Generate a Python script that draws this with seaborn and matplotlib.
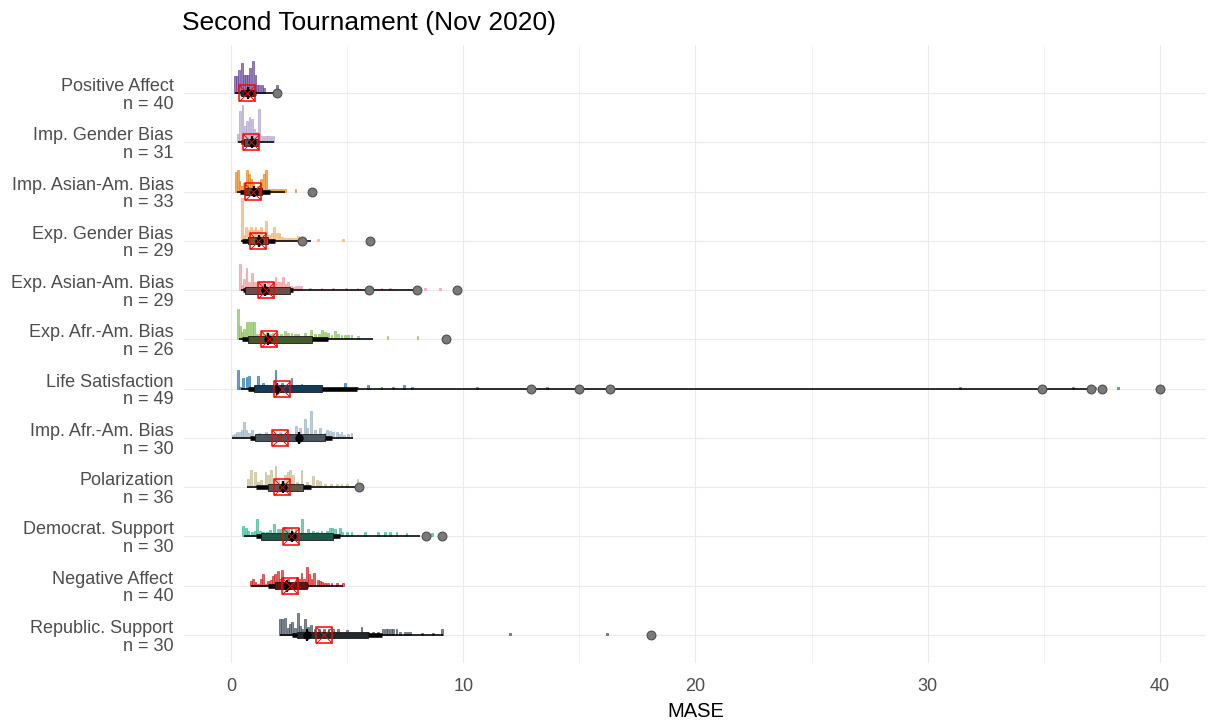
import matplotlib
matplotlib.use("Agg")
import matplotlib.pyplot as plt
from matplotlib.colors import to_rgb
import numpy as np
import pandas as pd
import seaborn as sns

# one row per target, top to bottom
ROWS = ["Positive Affect", "Imp. Gender Bias", "Imp. Asian-Am. Bias", "Exp. Gender Bias",
        "Exp. Asian-Am. Bias", "Exp. Afr.-Am. Bias", "Life Satisfaction", "Imp. Afr.-Am. Bias",
        "Polarization", "Democrat. Support", "Negative Affect", "Republic. Support"]
N_TEAMS = [40, 31, 33, 29, 29, 26, 49, 30, 36, 30, 40, 30]
COLORS = ["#6b4c9a", "#b9a8cb", "#ec8a1a", "#f3b46e", "#f29c9c", "#8ec25e",
          "#2b7bb6", "#9db5ca", "#c9bd96", "#3dbb9b", "#d62728", "#4a5663"]

# histogram bins (MASE) and relative bar heights
HIST_X = [
    [0.17, 0.27, 0.36, 0.47, 0.56, 0.65, 0.75, 0.82, 0.96, 1.06, 1.13, 1.22, 1.33, 1.43, 1.99],
    [0.3, 0.4, 0.5, 0.6, 0.7, 0.8, 0.9, 1.0, 1.1, 1.2, 1.3, 1.4, 1.5, 1.6, 1.7, 1.8],
    [0.2, 0.29, 0.37, 0.46, 0.57, 0.69, 0.77, 0.86, 0.95, 1.06, 1.18, 1.29, 1.41, 1.52,
     1.64, 1.75, 1.87, 1.98, 2.1, 2.21, 2.32, 2.78],
    [0.46, 0.57, 0.66, 0.77, 0.86, 0.98, 1.06, 1.18, 1.29, 1.41, 1.52, 1.64, 1.75, 1.87,
     1.98, 2.09, 2.21, 2.32, 2.44, 2.55, 2.67, 2.78, 2.9, 3.01, 3.76, 4.84],
    [0.39, 0.49, 0.57, 0.67, 0.77, 0.89, 1.0, 1.1, 1.2, 1.32, 1.43, 1.58, 1.72, 1.82, 1.92,
     2.04, 2.15, 2.25, 2.35, 2.47, 2.58, 2.68, 2.78, 2.9, 3.0, 3.4, 3.9, 4.4, 4.94, 5.45,
     6.48, 6.84, 8.35, 9.0],
    [0.29, 0.39, 0.49, 0.57, 0.67, 0.77, 0.89, 1.0, 1.1, 1.21, 1.32, 1.43, 1.54, 1.68, 1.82,
     1.97, 2.15, 2.32, 2.47, 2.61, 2.75, 2.9, 3.19, 3.44, 3.62, 3.79, 3.93, 4.05, 4.19, 4.33,
     4.48, 4.62, 4.76, 4.91, 5.05, 5.19, 5.48, 6.74, 8.03],
    [0.29, 0.39, 0.53, 0.67, 0.77, 0.92, 1.18, 1.39, 1.54, 1.92, 2.18, 2.61, 2.83, 3.04,
     3.47, 3.76, 4.91, 5.41, 5.91, 6.48, 6.99, 7.45, 7.8, 10.6, 13.6, 15.1, 31.4, 36.25,
     37.2, 38.2],
    [0.07, 0.17, 0.27, 0.39, 0.47, 0.56, 0.67, 0.79, 0.9, 1.2, 1.5, 1.8, 2.1, 2.4, 2.8,
     2.97, 3.19, 3.29, 3.43, 3.62, 3.83, 4.05, 4.15, 4.26, 4.4, 4.55, 4.66, 4.76, 4.86,
     5.05, 5.19],
    [0.75, 0.86, 1.03, 1.15, 1.29, 1.49, 1.61, 1.72, 1.92, 2.04, 2.18, 2.32, 2.44, 2.54,
     2.68, 2.83, 3.04, 3.26, 3.54, 3.69, 3.83, 4.05, 4.3, 4.55, 4.76, 4.98, 5.45],
    [0.53, 0.63, 0.75, 0.89, 1.03, 1.13, 1.25, 1.39, 1.54, 1.68, 1.87, 2.01, 2.15, 2.32,
     2.47, 2.61, 2.78, 3.07, 3.33, 3.54, 3.69, 3.9, 4.12, 4.26, 4.36, 4.48, 4.69, 4.79,
     4.98, 5.19, 5.77, 6.34, 6.63, 6.84, 7.13, 7.56, 8.64],
    [0.86, 0.96, 1.06, 1.18, 1.29, 1.39, 1.49, 1.61, 1.72, 1.82, 1.89, 2.01, 2.11, 2.21,
     2.32, 2.44, 2.61, 2.73, 2.83, 2.93, 3.04, 3.16, 3.26, 3.36, 3.47, 3.59, 3.73, 3.83,
     3.93, 4.05, 4.19, 4.33, 4.55, 4.84],
    [2.11, 2.21, 2.32, 2.44, 2.54, 2.64, 2.75, 2.87, 2.97, 3.07, 3.19, 3.3, 3.44, 3.6, 3.8,
     4.0, 4.2, 4.4, 4.6, 4.98, 5.62, 5.91, 6.13, 6.34, 6.56, 6.66, 6.77, 6.89, 6.99, 7.13,
     7.27, 7.49, 7.6, 7.7, 8.21, 8.71, 9.07, 12.0, 16.2],
]
HIST_H = [
    [17, 17, 23, 30, 18, 18, 18, 25, 32, 18, 8, 8, 8, 5, 8],
    [8, 31, 37, 16, 21, 25, 23, 13, 10, 33, 6, 6, 6, 6, 6, 6],
    [20, 22, 11, 6, 9, 22, 18, 13, 8, 4, 6, 13, 18, 22, 3, 3, 3, 3, 3, 3, 3, 3],
    [43, 6, 14, 11, 14, 11, 14, 11, 14, 6, 20, 6, 8, 14, 8, 8, 4, 3, 3, 3, 3, 3, 5, 3, 2, 2],
    [26, 5, 11, 22, 8, 17, 8, 8, 8, 8, 9, 8, 6, 8, 13, 8, 8, 13, 6, 8, 4, 3, 4, 4, 4,
     2, 2, 2, 2, 2, 2, 2, 2, 2],
    [30, 13, 7, 10, 17, 17, 17, 17, 5, 5, 7, 5, 7, 5, 6, 5, 5, 8, 6, 6, 5, 5, 6, 9, 5, 5,
     9, 7, 6, 4, 8, 5, 4, 4, 4, 4, 3, 3, 3],
    [19, 2, 11, 12, 13, 2, 13, 6, 3, 19, 6, 11, 4, 5, 4, 3, 6, 2, 4, 2, 2, 4, 2, 2, 2, 2,
     2, 2, 2, 2],
    [3, 4, 6, 6, 8, 16, 8, 5, 8, 5, 6, 5, 6, 4, 12, 10, 19, 10, 27, 8, 10, 5, 8, 7, 6, 6,
     4, 6, 3, 4, 5],
    [8, 17, 15, 5, 7, 15, 12, 17, 21, 8, 5, 12, 15, 17, 12, 5, 17, 5, 11, 7, 6, 3, 3, 3,
     3, 3, 8],
    [10, 8, 5, 4, 5, 18, 5, 4, 4, 6, 12, 7, 7, 9, 8, 8, 7, 18, 7, 5, 4, 5, 5, 8, 8, 7, 8,
     4, 4, 4, 4, 4, 4, 4, 4, 3, 3],
    [5, 7, 4, 2, 7, 12, 2, 5, 6, 10, 12, 15, 7, 16, 4, 7, 3, 3, 9, 7, 13, 7, 19, 12, 7,
     13, 6, 5, 4, 3, 3, 3, 3, 3],
    [16, 16, 17, 7, 11, 13, 7, 22, 9, 6, 16, 8, 10, 6, 6, 6, 6, 6, 6, 5, 8, 3, 3, 3, 6, 6,
     6, 6, 6, 6, 3, 3, 3, 3, 2, 2, 6, 2, 2],
]

# box (quartiles), 66% / 95% intervals, median, mean, outliers
Q1 = [0.45, 0.55, 0.6, 0.75, 0.6, 0.75, 1.0, 1.03, 1.58, 1.29, 1.89, 2.83]
Q3 = [1.05, 1.15, 1.35, 1.6, 2.54, 3.5, 3.9, 4.05, 3.11, 4.4, 3.26, 5.91]
CI66_LO = [0.4, 0.45, 0.39, 0.46, 0.53, 0.46, 0.75, 0.82, 1.1, 1.1, 1.61, 2.61]
CI66_HI = [1.1, 1.2, 1.68, 1.9, 2.68, 4.19, 5.41, 4.33, 3.44, 4.69, 3.33, 6.49]
CI95_LO = [0.17, 0.3, 0.25, 0.42, 0.42, 0.35, 0.45, 0.06, 0.67, 0.57, 0.86, 2.1]
CI95_HI = [1.85, 1.85, 2.32, 3.44, 8.1, 6.13, 37.0, 5.27, 5.48, 8.13, 4.84, 9.13]
MEDIANS = [0.75, 0.9, 1.0, 1.2, 1.46, 1.6, 1.97, 2.95, 2.25, 2.65, 2.4, 3.26]
MEANS = [0.7, 0.86, 0.96, 1.15, 1.5, 1.64, 2.18, 2.1, 2.21, 2.6, 2.55, 4.02]
OUTLIERS = [[2.0], [], [3.47], [3.07, 5.98], [5.94, 8.02, 9.74], [9.28],
            [12.92, 15.0, 16.3, 34.9, 37.05, 37.5, 40.0], [], [5.51], [8.39, 9.1], [], [18.1]]

sns.set_theme(style="whitegrid")
plt.rcParams["font.family"] = ["Liberation Sans", "DejaVu Sans"]

fig = plt.figure(figsize=(12.09, 7.26), dpi=100)
ax = fig.add_axes([0.1526, 0.0868, 0.8453, 0.8512])
ax.set_facecolor("white")

n = len(ROWS)
pos = np.arange(n, 0, -1)  # first row on top
slab = 0.89 / 44.0

for i in range(n):
    y, col = pos[i], COLORS[i]
    dark = tuple(c * 0.47 for c in to_rgb(col))
    ax.bar(HIST_X[i], np.array(HIST_H[i]) * slab, width=0.08, bottom=y, color=col,
           alpha=0.7, edgecolor=col, linewidth=0.7, zorder=2)
    ax.hlines(y, CI95_LO[i], CI95_HI[i], color="black", linewidth=1.15, zorder=3)
    ax.hlines(y, CI66_LO[i], CI66_HI[i], color="black", linewidth=3.3, zorder=4)
    ax.barh(y, Q3[i] - Q1[i], left=Q1[i], height=0.14, color=dark, edgecolor="#1a1a1a",
            linewidth=0.6, zorder=5)
    ax.vlines(MEDIANS[i], y - 0.12, y + 0.12, color="black", linewidth=1.6, zorder=6)

outl = pd.DataFrame([(v, pos[i]) for i, vals in enumerate(OUTLIERS) for v in vals],
                    columns=["mase", "y"])
sns.scatterplot(data=outl, x="mase", y="y", s=40, color="#7a7a7a", edgecolor="#4d4d4d",
                linewidth=0.8, zorder=7, ax=ax)
sns.scatterplot(x=MEDIANS, y=pos, s=36, color="black", edgecolor="black", linewidth=0,
                zorder=6, ax=ax)
ax.scatter(MEANS, pos, marker="s", s=135, facecolors="none", edgecolors="#ff0000",
           linewidths=1.1, zorder=8)
ax.scatter(MEANS, pos, marker="x", s=135, color="#ff0000", linewidths=0.7, zorder=8)

ax.set_xlim(-2, 42)
ax.set_ylim(0.432, 12.974)
ax.set_xticks([0, 10, 20, 30, 40])
ax.set_xticks([5, 15, 25, 35], minor=True)
ax.set_yticks(pos)
ax.set_yticklabels([f"{r}\nn = {k}" for r, k in zip(ROWS, N_TEAMS)],
                   ha="right", multialignment="right", linespacing=1.05)
ax.grid(which="major", color="#ebebeb", linewidth=0.85)
ax.grid(which="minor", axis="x", color="#ebebeb", linewidth=0.5)
ax.set_axisbelow(True)
ax.tick_params(axis="both", which="both", length=0, labelsize=13, labelcolor="#4d4d4d")
ax.tick_params(axis="y", pad=8)
ax.tick_params(axis="x", pad=11)
for s in ax.spines.values():
    s.set_visible(False)
ax.set_xlabel("MASE", fontsize=14.5, color="black", labelpad=5)
ax.set_ylabel("")
fig.text(182 / 1209, 1 - 23 / 726, "Second Tournament (Nov 2020)", fontsize=19,
         color="black", ha="left", va="center")

fig.savefig("out.png", dpi=100)
